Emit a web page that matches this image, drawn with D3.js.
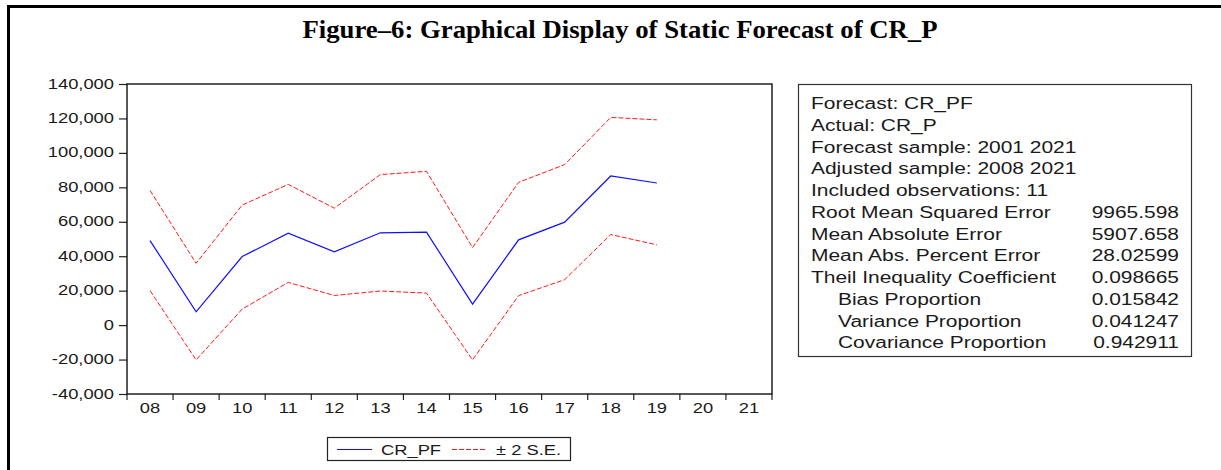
<!DOCTYPE html>
<html>
<head>
<meta charset="utf-8">
<script src="https://cdn.jsdelivr.net/npm/d3@7"></script>
<style>
  body { margin: 0; background: #fff; }
  svg { display: block; }
  text { font-family: "Liberation Sans", Arial, sans-serif; fill: #1a1a1a; }
</style>
</head>
<body>
<svg id="chart" width="1221" height="470"></svg>
<script>
// data
var years = ["08", "09", "10", "11", "12", "13", "14", "15", "16", "17", "18", "19", "20", "21"];
var forecast = [49100, 7700, 39800, 53400, 42500, 53600, 54000, 12200, 49500, 59800, 86600, 82500];
var upperSE = [78200, 35900, 69700, 81700, 67900, 87400, 89300, 45000, 82900, 93200, 120600, 119200];
var lowerSE = [20000, -20200, 9300, 24800, 17200, 19800, 18600, -20200, 17100, 26400, 52600, 46600];
var yTicks = [-40000, -20000, 0, 20000, 40000, 60000, 80000, 100000, 120000, 140000];
var statLabels = ["Forecast: CR_PF", "Actual: CR_P", "Forecast sample: 2001 2021", "Adjusted sample: 2008 2021",
  "Included observations: 11", "Root Mean Squared Error", "Mean Absolute Error", "Mean Abs. Percent Error",
  "Theil Inequality Coefficient", "Bias Proportion", "Variance Proportion", "Covariance Proportion"];
var statValues = ["", "", "", "", "", "9965.598", "5907.658", "28.02599", "0.098665", "0.015842", "0.041247", "0.942911"];
var statIndent = [0, 0, 0, 0, 0, 0, 0, 0, 0, 1, 1, 1];

var sx = 1.31; // the text in the picture is stretched sideways
var svg = d3.select("#chart");

// outer frame (top and left edge only)
svg.append("path")
    .attr("d", "M8.5,470 V6.5 H1221")
    .attr("fill", "none")
    .attr("stroke", "#000")
    .attr("stroke-width", 3);

svg.append("text")
    .attr("x", 620)
    .attr("y", 38)
    .attr("text-anchor", "middle")
    .attr("textLength", 635)
    .attr("lengthAdjust", "spacingAndGlyphs")
    .style("font-family", "'Liberation Serif', 'Times New Roman', serif")
    .style("font-weight", "bold")
    .style("font-size", "26px")
    .style("fill", "#000")
    .text("Figure\u20136: Graphical Display of Static Forecast of CR_P");

var plot = { left: 127, right: 772, top: 84, bottom: 394 };

var x = d3.scaleBand()
          .domain(years)
          .range([plot.left, plot.right]);

var y = d3.scaleLinear()
          .domain([-40000, 140000])
          .range([plot.bottom, plot.top]);

// y axis
var yAxis = d3.axisLeft(y)
              .tickValues(yTicks)
              .tickSize(8)
              .tickSizeOuter(0)
              .tickFormat(d3.format(",.0f"));

var gy = svg.append("g")
    .attr("transform", "translate(" + plot.left + ",0)")
    .call(yAxis);
gy.select(".domain").remove();
gy.selectAll("line").attr("stroke", "#222").attr("stroke-width", 1.2);
gy.selectAll("text")
    .attr("x", 0)
    .attr("dy", null)
    .attr("transform", "translate(-13,4) scale(" + sx + ",1)")
    .style("font-size", "14px")
    .style("font-family", "'Liberation Sans', Arial, sans-serif")
    .style("fill", "#1a1a1a")
    .text(d => d3.format(",.0f")(d).replace("\u2212", "-"));

// x axis: ticks on the category edges
var edges = years.map(d => x(d)).concat([plot.right]);
svg.append("g")
  .selectAll("line")
  .data(edges)
  .enter()
  .append("line")
    .attr("x1", d => d)
    .attr("x2", d => d)
    .attr("y1", plot.bottom)
    .attr("y2", plot.bottom + 6)
    .attr("stroke", "#222")
    .attr("stroke-width", 1.2);

svg.append("g")
  .selectAll("text")
  .data(years)
  .enter()
  .append("text")
    .attr("text-anchor", "middle")
    .attr("transform", d => "translate(" + (x(d) + x.bandwidth() / 2) + ",413) scale(" + sx + ",1)")
    .style("font-size", "14px")
    .text(d => d);

// plot frame
svg.append("rect")
    .attr("x", plot.left)
    .attr("y", plot.top)
    .attr("width", plot.right - plot.left)
    .attr("height", plot.bottom - plot.top)
    .attr("fill", "none")
    .attr("stroke", "#111")
    .attr("stroke-width", 1.4);

var line = d3.line()
             .x((d, i) => x(years[i]) + x.bandwidth() / 2)
             .y(d => y(d));

svg.append("path")
    .datum(upperSE)
    .attr("d", line)
    .attr("fill", "none")
    .attr("stroke", "#ff1a1a")
    .attr("stroke-width", 1)
    .attr("stroke-dasharray", "5,2");

svg.append("path")
    .datum(lowerSE)
    .attr("d", line)
    .attr("fill", "none")
    .attr("stroke", "#ff1a1a")
    .attr("stroke-width", 1)
    .attr("stroke-dasharray", "5,2");

svg.append("path")
    .datum(forecast)
    .attr("d", line)
    .attr("fill", "none")
    .attr("stroke", "#1010ff")
    .attr("stroke-width", 1.2);

// legend
var legend = svg.append("g");
legend.append("rect")
    .attr("x", 327.5)
    .attr("y", 437.5)
    .attr("width", 243)
    .attr("height", 23)
    .attr("fill", "#fff")
    .attr("stroke", "#222")
    .attr("stroke-width", 1.2);
legend.append("line")
    .attr("x1", 337).attr("x2", 372)
    .attr("y1", 449.5).attr("y2", 449.5)
    .attr("stroke", "#1010ff")
    .attr("stroke-width", 1.2);
legend.append("text")
    .attr("transform", "translate(381,455) scale(" + sx + ",1)")
    .style("font-size", "14px")
    .text("CR_PF");
legend.append("line")
    .attr("x1", 452).attr("x2", 487)
    .attr("y1", 449.5).attr("y2", 449.5)
    .attr("stroke", "#ff1a1a")
    .attr("stroke-width", 1)
    .attr("stroke-dasharray", "5,2");
legend.append("text")
    .attr("transform", "translate(496,455) scale(" + sx + ",1)")
    .style("font-size", "14px")
    .text("\u00b1 2 S.E.");

// statistics box
var stats = svg.append("g");
stats.append("rect")
    .attr("x", 798.5)
    .attr("y", 84.5)
    .attr("width", 393)
    .attr("height", 272)
    .attr("fill", "#fff")
    .attr("stroke", "#333")
    .attr("stroke-width", 1.2);

stats.selectAll(".stat-label")
  .data(statLabels)
  .enter()
  .append("text")
    .classed("stat-label", true)
    .attr("transform", (d, i) => "translate(" + (811 + statIndent[i] * 27) + "," + (109 + i * 21.75) + ") scale(" + sx + ",1)")
    .style("font-size", "16px")
    .text(d => d);

stats.selectAll(".stat-value")
  .data(statValues)
  .enter()
  .append("text")
    .classed("stat-value", true)
    .attr("text-anchor", "end")
    .attr("transform", (d, i) => "translate(1179," + (109 + i * 21.75) + ") scale(" + sx + ",1)")
    .style("font-size", "16px")
    .text(d => d);
</script>
</body>
</html>
